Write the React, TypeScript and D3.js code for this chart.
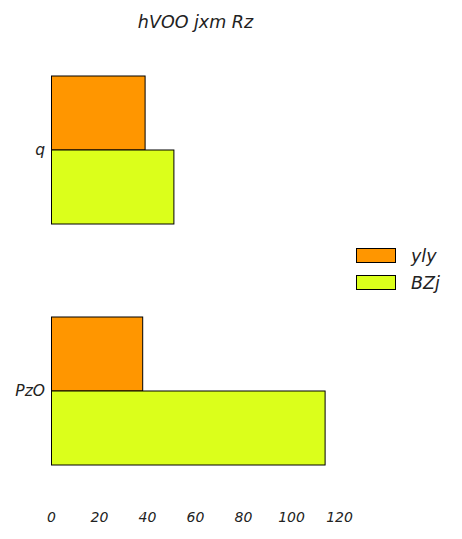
import React from "react";
import * as d3 from "d3";

const categories = ["q", "PzO"];
const seriesNames = ["yly", "BZj"];
const ylyValues = [39, 38];
const bzjValues = [51, 114];
const xTicks = [0, 20, 40, 60, 80, 100, 120];
const colors = ["#ff9600", "#dbff1b"];
const title = "hVOO jxm Rz";

export default function App() {
  const width = 462;
  const height = 539;
  const font = "'DejaVu Sans', sans-serif";
  const x = d3.scaleLinear().domain([0, 120]).range([51.5, 339.5]);
  const y = d3.scaleBand<string>().domain(categories).range([29.5, 511.5]).paddingInner(0).paddingOuter(0);
  const groupH = 148;
  const series = [ylyValues, bzjValues];
  return (
    <div style={{ margin: -8 }}>
      <svg width={width} height={height} style={{ display: "block" }}>
        <rect width={width} height={height} fill="#fff" />
        <text x={195.5} y={28} textAnchor="middle" fontFamily={font} fontStyle="italic" fontSize={17.5} fill="#222">{title}</text>
        {categories.map((c, i) => {
          const cy = (y(c) as number) + y.bandwidth() / 2;
          const sub = d3.scaleBand<number>().domain([0, 1]).range([cy - groupH / 2, cy + groupH / 2]);
          return (
            <g key={c}>
              {series.map((vals, s) => (
                <rect key={s} x={x(0)} y={sub(s) as number} width={x(vals[i]) - x(0)} height={sub.bandwidth()}
                  fill={colors[s]} stroke="#000" strokeWidth={1} />
              ))}
              <text x={45} y={cy} dy="0.35em" textAnchor="end" fontFamily={font} fontStyle="italic" fontSize={15.5} fill="#222">{c}</text>
            </g>
          );
        })}
        {xTicks.map((t) => (
          <text key={t} x={x(t)} y={517} dy="0.35em" textAnchor="middle" fontFamily={font} fontStyle="italic" fontSize={14} fill="#222">{t}</text>
        ))}
        {seriesNames.map((n, s) => (
          <g key={n}>
            <rect x={356.5} y={248.5 + s * 27} width={39} height={14} fill={colors[s]} stroke="#000" strokeWidth={1} />
            <text x={411} y={255.5 + s * 27} dy="0.35em" fontFamily={font} fontStyle="italic" fontSize={17.5} fill="#222">{n}</text>
          </g>
        ))}
      </svg>
    </div>
  );
}
